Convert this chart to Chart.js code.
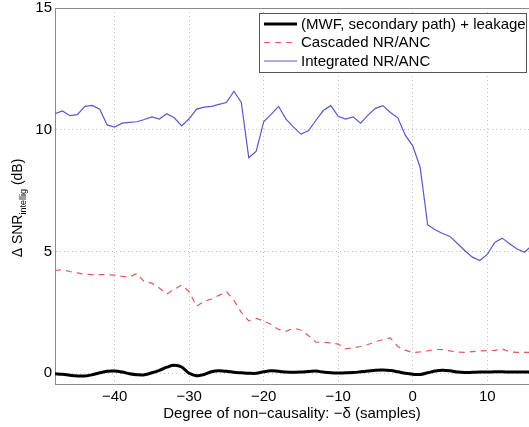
<!DOCTYPE html>
<html>
<head>
<meta charset="utf-8">
<script src="https://cdn.jsdelivr.net/npm/chart.js@4.4.0/dist/chart.umd.min.js"></script>
<style>
html, body { margin: 0; padding: 0; background: #fff; overflow: hidden; }
</style>
</head>
<body>
<canvas id="grafica" width="529" height="427"></canvas>
<script>
// degree of non-causality (samples)
const delays = [-48, -47, -46, -45, -44, -43, -42, -41, -40, -39, -38, -37, -36, -35, -34, -33,
  -32, -31, -30, -29, -28, -27, -26, -25, -24, -23, -22, -21, -20, -19, -18, -17,
  -16, -15, -14, -13, -12, -11, -10, -9, -8, -7, -6, -5, -4, -3, -2, -1,
  0, 1, 2, 3, 4, 5, 6, 7, 8, 9, 10, 11, 12, 13, 14, 15, 16]

const mwfLeakage = [-0.02, -0.04, -0.08, -0.11, -0.11, -0.06, 0.02, 0.08, 0.09, 0.05, -0.02, -0.06, -0.06, 0.02, 0.12, 0.25,
  0.33, 0.26, 0.0, -0.1, -0.05, 0.06, 0.1, 0.08, 0.04, 0.02, 0.0, 0.0, 0.06, 0.1, 0.08, 0.05,
  0.04, 0.05, 0.07, 0.09, 0.05, 0.02, 0.01, 0.02, 0.03, 0.06, 0.09, 0.12, 0.13, 0.11, 0.06, 0.0,
  -0.04, -0.05, 0.02, 0.09, 0.12, 0.1, 0.05, 0.03, 0.04, 0.05, 0.05, 0.06, 0.06, 0.05, 0.05, 0.05, 0.05]

const cascaded = [4.22, 4.25, 4.18, 4.12, 4.07, 4.05, 4.05, 4.05, 4.03, 3.98, 3.95, 4.1, 3.75, 3.7, 3.5, 3.25,
  3.45, 3.62, 3.35, 2.75, 2.95, 3.05, 3.2, 3.35, 3.0, 2.5, 2.15, 2.25, 2.15, 2.0, 1.8, 1.72,
  1.85, 1.78, 1.55, 1.28, 1.27, 1.25, 1.2, 1.0, 1.05, 1.1, 1.18, 1.3, 1.38, 1.45, 1.1, 0.95,
  0.85, 0.88, 0.92, 0.98, 0.97, 0.92, 0.87, 0.86, 0.89, 0.92, 0.93, 0.94, 1.0, 0.88, 0.86, 0.86, 0.86]

const integrated = [10.66, 10.77, 10.58, 10.62, 10.96, 11.0, 10.84, 10.2, 10.11, 10.27, 10.3, 10.33, 10.42, 10.53, 10.44, 10.66,
  10.49, 10.16, 10.45, 10.85, 10.93, 10.96, 11.04, 11.12, 11.58, 11.12, 8.85, 9.12, 10.33, 10.63, 10.96, 10.44,
  10.11, 9.82, 9.96, 10.38, 10.79, 10.99, 10.55, 10.44, 10.53, 10.27, 10.6, 10.88, 10.99, 10.71, 10.49, 9.78,
  9.34, 8.45, 6.1, 5.89, 5.74, 5.62, 5.33, 5.03, 4.77, 4.63, 4.88, 5.37, 5.55, 5.32, 5.1, 4.97, 5.25]

const xTicks = [-40, -30, -20, -10, 0, 10]
const yTicks = [0, 5, 10, 15]
const seriesNames = ["(MWF, secondary path) + leakage", "Cascaded NR/ANC", "Integrated NR/ANC"]

const FONT = "'Liberation Sans', Arial, Helvetica, sans-serif"

function toPoints(values) {
    return delays.map((d, i) => ({ x: d, y: values[i] }))
}

function minus(v) {
    return v < 0 ? "\u2212" + Math.abs(v) : String(v)
}

// legend box, top border and the y title with its subscript
const extras = {
    id: "extras",
    afterDraw(chart) {
        const ctx = chart.ctx
        const area = chart.chartArea

        ctx.save()
        ctx.strokeStyle = "#8a8a8a"
        ctx.lineWidth = 1
        ctx.beginPath()
        ctx.moveTo(area.left, area.top + 0.5)
        ctx.lineTo(area.right, area.top + 0.5)
        ctx.stroke()

        // legend
        ctx.fillStyle = "#fff"
        ctx.fillRect(259, 13, 267, 59)
        ctx.strokeStyle = "#555"
        ctx.strokeRect(259.5, 13.5, 267, 59)
        chart.data.datasets.forEach((ds, i) => {
            const y = 24 + i * 18.5
            ctx.save()
            ctx.strokeStyle = ds.borderColor
            ctx.lineWidth = ds.borderWidth
            ctx.setLineDash(ds.borderDash || [])
            ctx.beginPath()
            ctx.moveTo(264, y)
            ctx.lineTo(297, y)
            ctx.stroke()
            ctx.restore()
            ctx.fillStyle = "#000"
            ctx.font = "15px " + FONT
            ctx.textBaseline = "middle"
            ctx.textAlign = "left"
            ctx.fillText(ds.label, 301, y + 0.5)
        })

        // y axis title
        const main1 = "\u0394 SNR", sub = "intellig", main2 = " (dB)"
        ctx.translate(22, 208)
        ctx.rotate(-Math.PI / 2)
        ctx.fillStyle = "#000"
        ctx.textBaseline = "alphabetic"
        ctx.textAlign = "left"
        ctx.font = "14px " + FONT
        const w1 = ctx.measureText(main1).width
        const w3 = ctx.measureText(main2).width
        ctx.font = "9px " + FONT
        const w2 = ctx.measureText(sub).width
        let x0 = -(w1 + w2 + w3) / 2
        ctx.font = "14px " + FONT
        ctx.fillText(main1, x0, 0)
        ctx.font = "9px " + FONT
        ctx.fillText(sub, x0 + w1, 4)
        ctx.font = "14px " + FONT
        ctx.fillText(main2, x0 + w1 + w2, 0)
        ctx.restore()
    }
}

const graph = document.querySelector("#grafica")

const data = {
    datasets: [
        {
            label: seriesNames[0],
            data: toPoints(mwfLeakage),
            borderColor: "#000000",
            borderWidth: 3,
            tension: 0.4,
            pointRadius: 0,
            fill: false
        },
        {
            label: seriesNames[1],
            data: toPoints(cascaded),
            borderColor: "#e05a5a",
            borderWidth: 1.2,
            borderDash: [6, 5],
            tension: 0,
            pointRadius: 0,
            fill: false
        },
        {
            label: seriesNames[2],
            data: toPoints(integrated),
            borderColor: "#5858cc",
            borderWidth: 1.2,
            tension: 0,
            pointRadius: 0,
            fill: false
        }
    ]
}

const tickFont = { family: FONT, size: 15 }

const config = {
    type: "line",
    data: data,
    plugins: [extras],
    options: {
        responsive: false,
        animation: false,
        devicePixelRatio: 1,
        layout: { padding: { top: 8, right: 0, left: 0, bottom: 0 } },
        plugins: {
            legend: { display: false },
            tooltip: { enabled: false }
        },
        scales: {
            x: {
                type: "linear",
                min: -48,
                max: 15.6,
                afterBuildTicks: s => { s.ticks = xTicks.map(v => ({ value: v })) },
                afterFit: s => { s.height = 43; s.paddingLeft = 0; s.paddingRight = 0 },
                ticks: { font: tickFont, color: "#000", padding: 4, maxRotation: 0, callback: v => minus(v) },
                grid: { color: "#c2c2c2", lineWidth: 1, drawTicks: false },
                border: { color: "#8a8a8a", width: 1, dash: [1, 3] },
                title: {
                    display: true,
                    text: "Degree of non\u2212causality: \u2212\u03b4 (samples)",
                    font: tickFont,
                    color: "#000",
                    padding: { top: 0, bottom: 4 }
                }
            },
            y: {
                min: -0.44,
                max: 15,
                afterBuildTicks: s => { s.ticks = yTicks.map(v => ({ value: v })) },
                afterFit: s => { s.width = 55; s.paddingTop = 0; s.paddingBottom = 0 },
                ticks: { font: tickFont, color: "#000", padding: 3, callback: v => minus(v) },
                grid: { color: "#c2c2c2", lineWidth: 1, drawTicks: false },
                border: { color: "#8a8a8a", width: 1, dash: [1, 3] }
            }
        }
    }
}

new Chart(graph, config)
</script>
</body>
</html>
